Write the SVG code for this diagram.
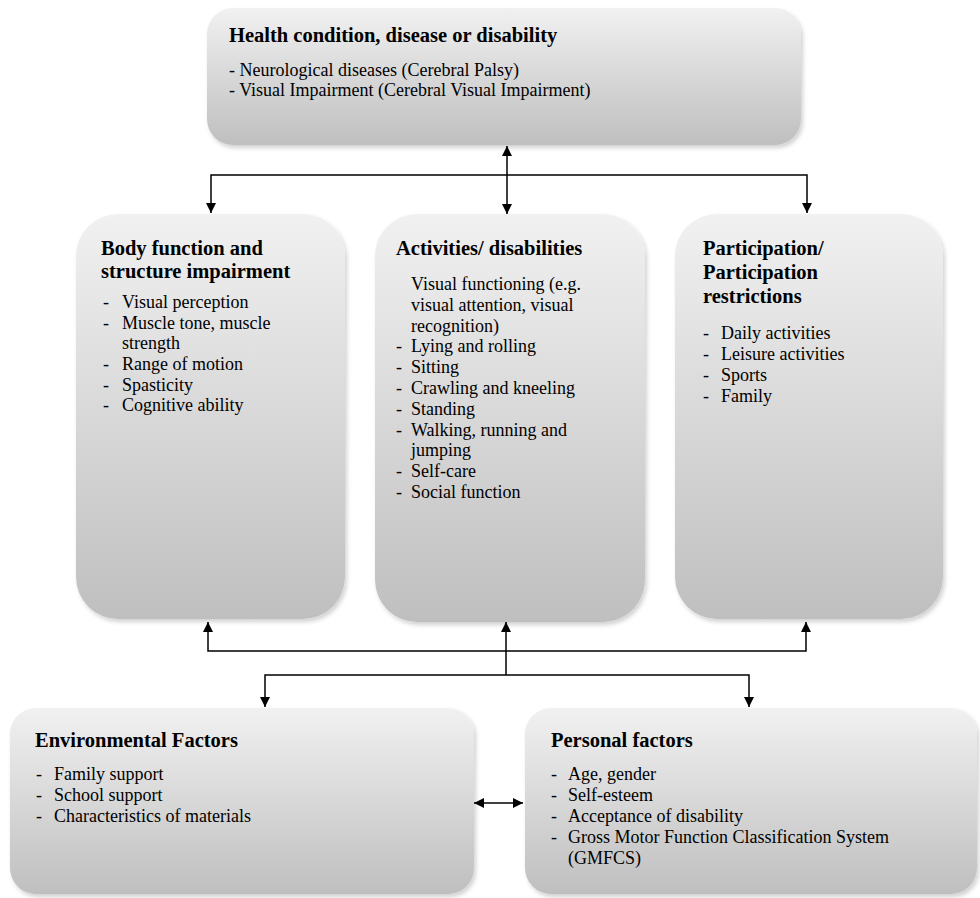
<svg xmlns="http://www.w3.org/2000/svg" width="980" height="898" viewBox="0 0 980 898">
<defs>
<linearGradient id="g" x1="0" y1="0" x2="0" y2="1">
<stop offset="0" stop-color="#f1f1f1"/>
<stop offset="1" stop-color="#bfbfbf"/>
</linearGradient>
<filter id="sh" x="-5%" y="-5%" width="115%" height="115%">
<feDropShadow dx="2" dy="3" stdDeviation="2" flood-color="#000" flood-opacity="0.18"/>
</filter>
<marker id="ah" viewBox="0 0 10 10" refX="10" refY="5" markerWidth="10" markerHeight="10" markerUnits="userSpaceOnUse" orient="auto-start-reverse">
<path d="M0,0 L10,5 L0,10 z" fill="#000"/>
</marker>
<style>
.box{fill:url(#g);filter:url(#sh);}
.t{font-family:"Liberation Serif","Times New Roman",serif;font-weight:bold;font-size:20.5px;fill:#000;}
.b{font-family:"Liberation Serif","Times New Roman",serif;font-size:18px;fill:#000;}
.c{fill:none;stroke:#000;stroke-width:1.5;}
.a{marker-end:url(#ah);}
.aa{marker-end:url(#ah);marker-start:url(#ah);}
</style>
</defs>

<g id="health">
<rect class="box" x="207" y="8" width="594" height="137" rx="26"/>
<text class="t" x="229" y="42">Health condition, disease or disability</text>
<text class="b" x="229" y="76">- Neurological diseases (Cerebral Palsy)</text>
<text class="b" x="229" y="96">- Visual Impairment (Cerebral Visual Impairment)</text>
</g>

<g id="body">
<rect class="box" x="76" y="214" width="269" height="405" rx="42"/>
<text class="t" x="101" y="255">Body function and</text>
<text class="t" x="101" y="278">structure impairment</text>
<text class="b" x="103" y="308">-</text><text class="b" x="122" y="308">Visual perception</text>
<text class="b" x="103" y="329">-</text><text class="b" x="122" y="329">Muscle tone, muscle</text>
<text class="b" x="122" y="349">strength</text>
<text class="b" x="103" y="370">-</text><text class="b" x="122" y="370">Range of motion</text>
<text class="b" x="103" y="391">-</text><text class="b" x="122" y="391">Spasticity</text>
<text class="b" x="103" y="411">-</text><text class="b" x="122" y="411">Cognitive ability</text>
</g>

<g id="activities">
<rect class="box" x="375" y="214" width="270" height="408" rx="42"/>
<text class="t" x="396" y="255">Activities/ disabilities</text>
<text class="b" x="411" y="290">Visual functioning (e.g.</text>
<text class="b" x="411" y="311">visual attention, visual</text>
<text class="b" x="411" y="332">recognition)</text>
<text class="b" x="396" y="352">-</text><text class="b" x="411" y="352">Lying and rolling</text>
<text class="b" x="396" y="373">-</text><text class="b" x="411" y="373">Sitting</text>
<text class="b" x="396" y="394">-</text><text class="b" x="411" y="394">Crawling and kneeling</text>
<text class="b" x="396" y="415">-</text><text class="b" x="411" y="415">Standing</text>
<text class="b" x="396" y="436">-</text><text class="b" x="411" y="436">Walking, running and</text>
<text class="b" x="411" y="456">jumping</text>
<text class="b" x="396" y="477">-</text><text class="b" x="411" y="477">Self-care</text>
<text class="b" x="396" y="498">-</text><text class="b" x="411" y="498">Social function</text>
</g>

<g id="participation">
<rect class="box" x="675" y="214" width="268" height="405" rx="42"/>
<text class="t" x="703" y="255">Participation/</text>
<text class="t" x="703" y="279">Participation</text>
<text class="t" x="703" y="303">restrictions</text>
<text class="b" x="703" y="339">-</text><text class="b" x="721" y="339">Daily activities</text>
<text class="b" x="703" y="360">-</text><text class="b" x="721" y="360">Leisure activities</text>
<text class="b" x="703" y="381">-</text><text class="b" x="721" y="381">Sports</text>
<text class="b" x="703" y="402">-</text><text class="b" x="721" y="402">Family</text>
</g>

<g id="environmental">
<rect class="box" x="10" y="708" width="464" height="186" rx="26"/>
<text class="t" x="35" y="747">Environmental Factors</text>
<text class="b" x="36" y="780">-</text><text class="b" x="54" y="780">Family support</text>
<text class="b" x="36" y="801">-</text><text class="b" x="54" y="801">School support</text>
<text class="b" x="36" y="822">-</text><text class="b" x="54" y="822">Characteristics of materials</text>
</g>

<g id="personal">
<rect class="box" x="525" y="708" width="452" height="186" rx="26"/>
<text class="t" x="551" y="747">Personal factors</text>
<text class="b" x="551" y="780">-</text><text class="b" x="568" y="780">Age, gender</text>
<text class="b" x="551" y="801">-</text><text class="b" x="568" y="801">Self-esteem</text>
<text class="b" x="551" y="822">-</text><text class="b" x="568" y="822">Acceptance of disability</text>
<text class="b" x="551" y="843">-</text><text class="b" x="568" y="843">Gross Motor Function Classification System</text>
<text class="b" x="568" y="864">(GMFCS)</text>
</g>

<g id="connectors">
<line class="c aa" x1="507" y1="146" x2="507" y2="214"/>
<polyline class="c" points="211,213 211,175 807,175 807,213" style="marker-start:url(#ah);marker-end:url(#ah)"/>
<polyline class="c" points="208,622 208,651 806,651 806,622" style="marker-start:url(#ah);marker-end:url(#ah)"/>
<line class="c a" x1="506" y1="675" x2="506" y2="622"/>
<polyline class="c" points="265,707 265,675 749,675 749,707" style="marker-start:url(#ah);marker-end:url(#ah)"/>
<line class="c aa" x1="474" y1="803" x2="523" y2="803"/>
</g>
</svg>
